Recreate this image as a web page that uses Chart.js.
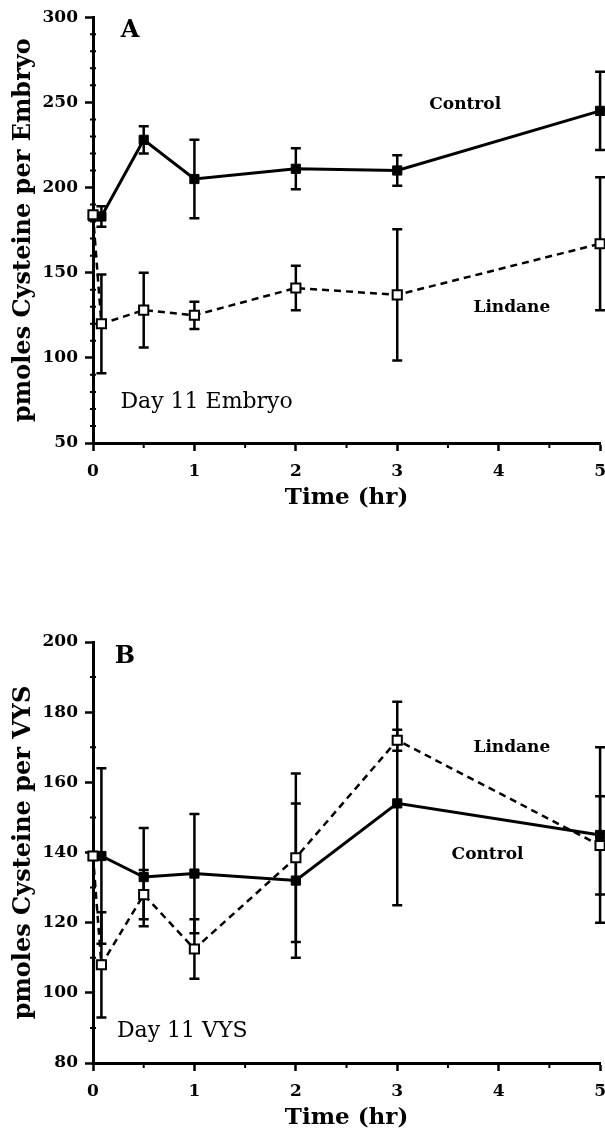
<!DOCTYPE html>
<html><head><meta charset="utf-8">
<script src="https://cdn.jsdelivr.net/npm/chart.js@4/dist/chart.umd.min.js"></script>
<style>
html,body{margin:0;padding:0;background:#fff;overflow:hidden;width:605px;height:1132px;position:relative;}
.wrap{position:absolute;left:0;width:616px;}
canvas{display:block;}
</style></head><body>
<div class="wrap" style="top:0;height:520px"><canvas id="cA" width="616" height="520"></canvas></div>
<div class="wrap" style="top:595px;height:537px"><canvas id="cB" width="616" height="537"></canvas></div>
<script>
// ---- data ----
const timesHr = [0, 0.083, 0.5, 1, 2, 3, 5];

// Panel A: Day 11 Embryo
const embryoControl    = [183, 183, 228, 205, 211, 210, 245];
const embryoControlErr = [0, 6, 8, 23, 12, 9, 23];
const embryoLindane    = [184, 120, 128, 125, 141, 137, 167];
const embryoLindaneErr = [0, 29, 22, 8, 13, 38.5, 39];

// Panel B: Day 11 VYS
const vysControl    = [139, 139, 133, 134, 132, 154, 145];
const vysControlErr = [0, 25, 14, 17, 22, 29, 25];
const vysLindane    = [139, 108, 128, 112.5, 138.5, 172, 142];
const vysLindaneErr = [0, 15, 7, 8.5, 24, 3, 14];

// tick values / labels
const xMajorTicks = [0, 1, 2, 3, 4, 5];
const xMinorTicks = [0.5, 1.5, 2.5, 3.5, 4.5];
const yMajorTicksA = [50, 100, 150, 200, 250, 300];
const yMinorTicksA = [60,70,80,90,110,120,130,140,160,170,180,190,210,220,230,240,260,270,280,290];
const yMajorTicksB = [80, 100, 120, 140, 160, 180, 200];
const yMinorTicksB = [90, 110, 130, 150, 170, 190];

const SERIF = '"DejaVu Serif", "Liberation Serif", serif';

function pts(xs, ys){ return xs.map((x,i)=>({x:x, y:ys[i]})); }

const errorBarPlugin = {
  id:'errbars',
  beforeDatasetsDraw(chart){
    const {ctx, scales:{x, y}} = chart;
    ctx.save();
    ctx.strokeStyle = '#000';
    ctx.lineWidth = 2.5;
    chart.data.datasets.forEach(ds=>{
      (ds.errors||[]).forEach((e,i)=>{
        if(!e) return;
        const p = ds.data[i];
        const px = x.getPixelForValue(p.x);
        const y1 = y.getPixelForValue(p.y + e), y2 = y.getPixelForValue(p.y - e);
        ctx.beginPath();
        ctx.moveTo(px, y1); ctx.lineTo(px, y2);
        ctx.moveTo(px-5, y1); ctx.lineTo(px+5, y1);
        ctx.moveTo(px-5, y2); ctx.lineTo(px+5, y2);
        ctx.stroke();
      });
    });
    ctx.restore();
  }
};

const minorTickPlugin = {
  id:'minorticks',
  afterDraw(chart){
    const {ctx, scales:{x, y}, chartArea:a} = chart;
    const o = chart.options.plugins.minorticks;
    ctx.save();
    ctx.strokeStyle = '#000';
    ctx.lineWidth = 2;
    ctx.beginPath();
    o.xMinor.forEach(v=>{ const px = x.getPixelForValue(v); ctx.moveTo(px, a.bottom); ctx.lineTo(px, a.bottom+5); });
    o.yMinor.forEach(v=>{ const py = y.getPixelForValue(v); ctx.moveTo(a.left-3, py); ctx.lineTo(a.left+3, py); });
    ctx.stroke();
    ctx.restore();
  }
};

const textPlugin = {
  id:'notes',
  afterDraw(chart){
    const {ctx, scales:{x, y}} = chart;
    ctx.save();
    ctx.fillStyle = '#000';
    ctx.textAlign = 'center';
    ctx.textBaseline = 'middle';
    chart.options.plugins.notes.items.forEach(n=>{
      ctx.font = n.font;
      ctx.fillText(n.text, x.getPixelForValue(n.x), y.getPixelForValue(n.y));
    });
    ctx.restore();
  }
};

function makeChart(id, c){
  const allX = xMajorTicks.concat(xMinorTicks).sort((a,b)=>a-b);
  const allY = c.yMajor.concat(c.yMinor).sort((a,b)=>a-b);
  return new Chart(document.getElementById(id), {
    type:'line',
    data:{
      datasets:[
        {label:'Lindane', data:pts(timesHr, c.lindane), errors:c.lindaneErr,
         borderColor:'#000', borderWidth:2.5, borderDash:[7,5], tension:0,
         pointStyle:'rect', pointRadius:6.5, pointBackgroundColor:'#fff', pointBorderColor:'#000', pointBorderWidth:2},
        {label:'Control', data:pts(timesHr, c.control), errors:c.controlErr,
         borderColor:'#000', borderWidth:3, tension:0,
         pointStyle:'rect', pointRadius:6.5, pointBackgroundColor:'#000', pointBorderColor:'#000', pointBorderWidth:1}
      ]
    },
    options:{
      responsive:false, animation:false, clip:false,
      layout:{autoPadding:false, padding:{left:0, right:0, top:c.padTop, bottom:c.padBottom}},
      plugins:{
        legend:{display:false}, tooltip:{enabled:false},
        minorticks:{xMinor:xMinorTicks, yMinor:c.yMinor},
        notes:{items:c.notes}
      },
      scales:{
        x:{type:'linear', position:'bottom', min:0, max:5,
          afterFit(s){ s.height = c.xHeight; },
          afterBuildTicks(s){ s.ticks = allX.map(v=>({value:v})); },
          ticks:{autoSkip:false, maxRotation:0, color:'#000', padding:10,
            font:{family:SERIF, size:17, weight:'bold'},
            callback:(v)=> xMajorTicks.includes(v) ? String(v) : ''},
          grid:{drawOnChartArea:false, drawTicks:true, tickLength:8, tickWidth:2.5,
            tickColor:(ctx)=> (ctx.tick && xMajorTicks.includes(ctx.tick.value)) ? '#000' : 'rgba(0,0,0,0)'},
          border:{display:true, width:3, color:'#000'},
          title:{display:true, text:'Time (hr)', color:'#000', padding:{top:0, bottom:0},
            font:{family:SERIF, size:23, weight:'bold', lineHeight:1.2}}
        },
        y:{type:'linear', position:'left', min:c.yMin, max:c.yMax,
          afterFit(s){ s.width = 93; },
          afterBuildTicks(s){ s.ticks = allY.map(v=>({value:v})); },
          ticks:{autoSkip:false, color:'#000', padding:7,
            font:{family:SERIF, size:17, weight:'bold'},
            callback:(v)=> c.yMajor.includes(v) ? String(v) : ''},
          grid:{drawOnChartArea:false, drawTicks:true, tickLength:8, tickWidth:2.5,
            tickColor:(ctx)=> (ctx.tick && c.yMajor.includes(ctx.tick.value)) ? '#000' : 'rgba(0,0,0,0)'},
          border:{display:true, width:3, color:'#000'},
          title:{display:true, text:c.yTitle, color:'#000', padding:{top:9, bottom:0},
            font:{family:SERIF, size:24, weight:'bold', lineHeight:1.2}}
        }
      }
    },
    plugins:[errorBarPlugin, minorTickPlugin, textPlugin]
  });
}

makeChart('cA', {
  yMin:50, yMax:300, yMajor:yMajorTicksA, yMinor:yMinorTicksA,
  control:embryoControl, controlErr:embryoControlErr,
  lindane:embryoLindane, lindaneErr:embryoLindaneErr,
  yTitle:'pmoles Cysteine per Embryo',
  padTop:15, padBottom:8, xHeight:69,
  notes:[
    {text:'A', x:0.365, y:291.8, font:'bold 24px '+SERIF},
    {text:'Control', x:3.67, y:248.6, font:'bold 17px '+SERIF},
    {text:'Lindane', x:4.13, y:129.4, font:'bold 17px '+SERIF},
    {text:'Day 11 Embryo', x:1.12, y:74, font:'22px '+SERIF}
  ]
});

makeChart('cB', {
  yMin:80, yMax:200, yMajor:yMajorTicksB, yMinor:yMinorTicksB,
  control:vysControl, controlErr:vysControlErr,
  lindane:vysLindane, lindaneErr:vysLindaneErr,
  yTitle:'pmoles Cysteine per VYS',
  padTop:47, padBottom:0, xHeight:69,
  notes:[
    {text:'B', x:0.315, y:195.7, font:'bold 24px '+SERIF},
    {text:'Lindane', x:4.13, y:169.8, font:'bold 17px '+SERIF},
    {text:'Control', x:3.89, y:139.3, font:'bold 17px '+SERIF},
    {text:'Day 11 VYS', x:0.88, y:89, font:'22px '+SERIF}
  ]
});
</script>
</body></html>
